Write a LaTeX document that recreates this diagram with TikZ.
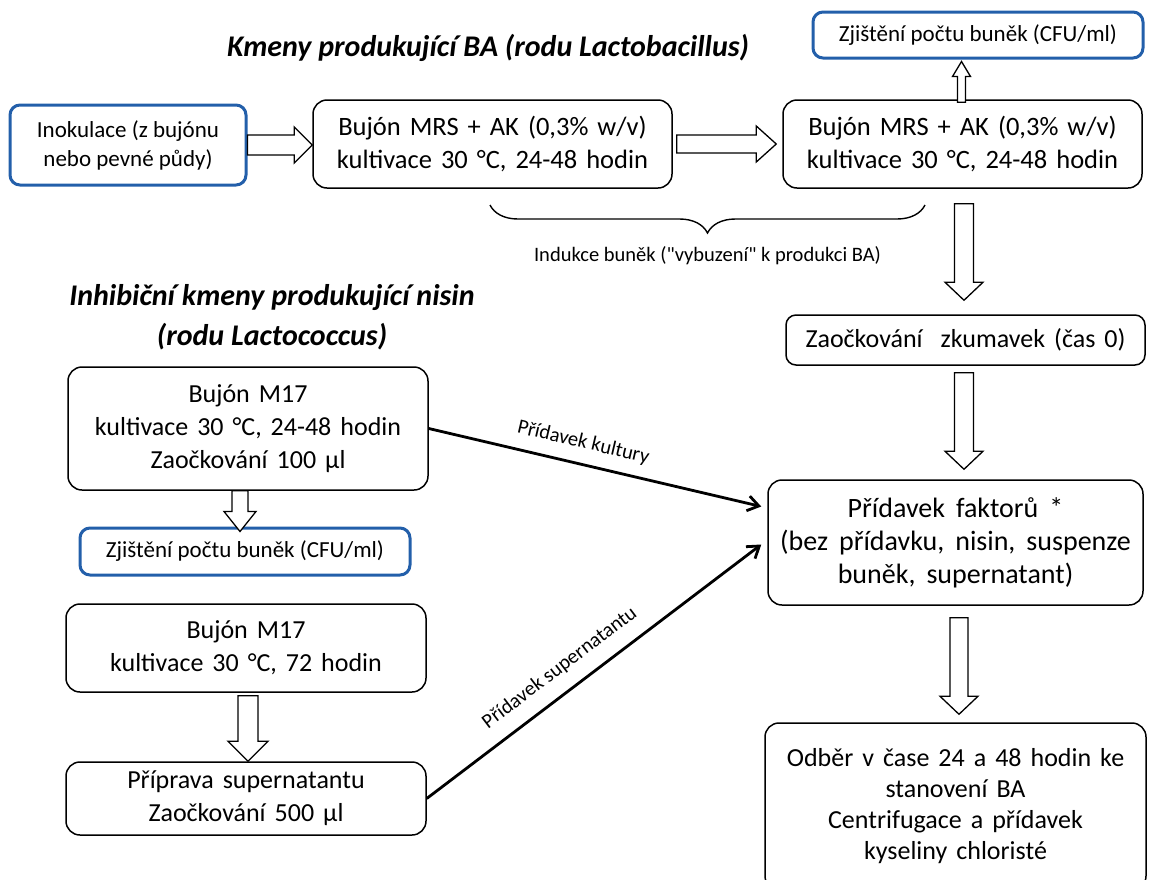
\documentclass[tikz,border=0pt]{standalone}
\usepackage{fontspec}
\setmainfont{Carlito}
\newfontfamily\cfplain{Carlito}
\usetikzlibrary{calc,arrows.meta,decorations.pathreplacing}
\definecolor{boxblue}{RGB}{35,95,170}
\newcommand{\boxsp}{\spaceskip 9pt\relax}
\newcommand{\widesp}{\spaceskip 11pt\relax}
\newcommand{\fatarrow}[5]{%
  \draw[fatline] let \p1=#1, \p2=#2, \n1={atan2(\y2-\y1,\x2-\x1)}, \n2={veclen(\x2-\x1,\y2-\y1)} in
    [shift={(\p1)}, rotate=\n1] (0,#3) -- (\n2-#5,#3) -- (\n2-#5,#4) -- (\n2,0)
    -- (\n2-#5,-#4) -- (\n2-#5,-#3) -- (0,-#3) -- cycle;}

\begin{document}
\begin{tikzpicture}[x=1pt, y=1pt,
    box/.style={draw, line width=1.5pt, rounded corners=14pt, align=center, inner sep=0pt,
                font=\fontsize{26}{33}\selectfont\boxsp},
    mrsbox/.style={box, font=\fontsize{26.5}{33}\selectfont\boxsp},
    bluebox/.style={draw=boxblue, line width=3pt, rounded corners=10pt, align=center, inner sep=0pt,
                font=\fontsize{23}{29}\selectfont},
    headline/.style={align=center, font=\fontsize{30}{40}\selectfont\bfseries\itshape},
    fatline/.style={draw, fill=white, line width=1.3pt, line join=miter},
    thinarrow/.style={line width=2.8pt, -{Straight Barb[length=11pt, width=15pt]}},
    smalltext/.style={font=\fontsize{20.5}{24}\selectfont}]
                \useasboundingbox (0,0) rectangle (1149,-879);
                \node[headline] (title1) at (488,-48) {Kmeny produkující BA (rodu Lactobacillus)};
                \node[headline] (title2) at (272,-317) {Inhibiční kmeny produkující nisin\\(rodu Lactococcus)};
                \node[bluebox, minimum width=236pt, minimum height=80pt] (ino) at (128,-145) {Inokulace (z bujónu\\nebo pevné půdy)};
                \node[mrsbox, minimum width=359pt, minimum height=88pt] (mrsA) at (492.5,-144) {Bujón MRS + AK (0,3\% w/v)\\kultivace 30 °C, 24-48 hodin};
                \node[mrsbox, minimum width=359pt, minimum height=88pt] (mrsB) at (962.5,-144) {Bujón MRS + AK (0,3\% w/v)\\kultivace 30 °C, 24-48 hodin};
                \node[bluebox, minimum width=330pt, minimum height=46pt] (cfuTop) at (978,-35) {Zjištění počtu buněk (CFU/ml)};
                \node[box, rounded corners=10pt, minimum width=359pt, minimum height=50pt] (zaoc) at (965.5,-340) {Zaočkování\ \ zkumavek (čas 0)};
                \node[box, font=\fontsize{28}{33}\selectfont\widesp, minimum width=375pt, minimum height=125pt] (pridavek) at (955.5,-542.5) {Přídavek faktorů *\\(bez přídavku, nisin, suspenze\\buněk, supernatant)};
                \node[box, font=\fontsize{26}{31}\selectfont\boxsp, minimum width=381pt, minimum height=167pt] (odber) at (955.5,-806.5) {Odběr v čase 24 a 48 hodin ke\\stanovení BA\\Centrifugace a přídavek\\kyseliny chloristé};
                \node[box, minimum width=360pt, minimum height=123pt] (m17a) at (248,-428.5) {Bujón M17\\kultivace 30 °C, 24-48 hodin\\Zaočkování 100 µl};
                \node[bluebox, minimum width=330pt, minimum height=47pt] (cfuLeft) at (245,-551.5) {Zjištění počtu buněk (CFU/ml)};
                \node[box, minimum width=360pt, minimum height=88pt] (m17b) at (246,-648) {Bujón M17\\kultivace 30 °C, 72 hodin};
                \node[box, minimum width=360pt, minimum height=73pt] (supern) at (246,-798.5) {Příprava supernatantu\\Zaočkování 500 µl};
                \coordinate (brL) at (490,-205);
                \coordinate (brR) at (925,-205);
                \draw[line width=1.4pt, decorate, decoration={brace, mirror, amplitude=28pt}] (brL) -- (brR)
                    node[midway, below=37pt, smalltext] (induk) {\cfplain Indukce buněk ("vybuzení" k produkci BA)};
                \fatarrow{(ino.east)}{(ino.east -| mrsA.west)}{10}{18}{18}
                \fatarrow{($(mrsA.east)+(4,0)$)}{($(mrsB.west)+(-6,0)$)}{9}{18}{20}
                \fatarrow{($(mrsB.north)+(-1,-3)$)}{($(mrsB.north |- cfuTop.south)+(-1,-2)$)}{4}{9}{15}
                \fatarrow{($(mrsB.south)+(1.5,-15)$)}{($(mrsB.south |- zaoc.north)+(1.5,14)$)}{9.5}{19}{18}
                \fatarrow{($(zaoc.south)+(-1.5,-7)$)}{($(zaoc.south |- pridavek.north)+(-1.5,10)$)}{9.5}{19}{18}
                \fatarrow{($(pridavek.south)+(3.5,-12)$)}{($(pridavek.south |- odber.north)+(3.5,8)$)}{9}{19}{18}
                \fatarrow{($(m17a.south)+(-8,0)$)}{($(m17a.south |- cfuLeft.north)+(-8,-5)$)}{8}{16}{20}
                \fatarrow{($(m17b.south)+(2,-3)$)}{($(m17b.south |- supern.north)+(2,0)$)}{10}{20}{20}
                \draw[thinarrow] (m17a.east) -- node[pos=0.45, sloped, above=8pt, smalltext] {Přídavek kultury} ($(pridavek.west)+(-6,36)$);
                \draw[thinarrow] (supern.east) -- node[pos=0.44, sloped, above=10pt, smalltext] {Přídavek supernatantu} ($(pridavek.west)+(-6,-2)$);
            \end{tikzpicture}
\end{document}
